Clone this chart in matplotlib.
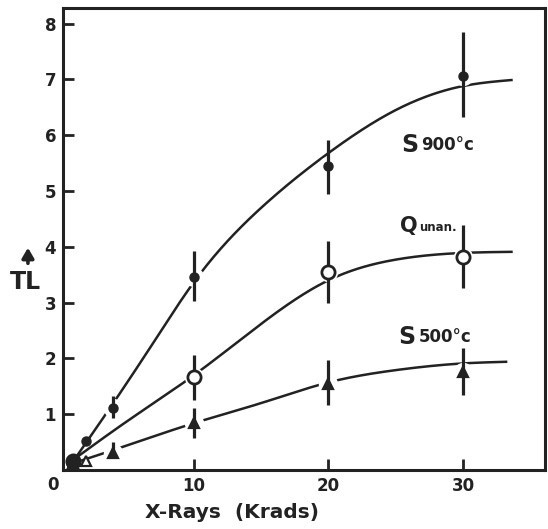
import numpy as np
import matplotlib
matplotlib.use("Agg")
import matplotlib.pyplot as plt

plt.rcParams['font.family'] = ['DejaVu Sans']

# ---- data ----
s900_x = [1, 2, 4, 10, 20, 30]
s900_y = [0.15, 0.52, 1.12, 3.46, 5.44, 7.06]
s900_lo = [0, 0, 0.18, 0.44, 0.49, 0.73]
s900_hi = [0, 0, 0.20, 0.47, 0.47, 0.79]

qun_x = [1, 10, 20, 30]
qun_y = [0.17, 1.67, 3.54, 3.81]
qun_lo = [0, 0.42, 0.55, 0.55]
qun_hi = [0, 0.39, 0.57, 0.58]

s500_x = [1, 2, 4, 10, 20, 30]
s500_y = [0.12, 0.17, 0.30, 0.84, 1.55, 1.76]
s500_lo = [0, 0, 0.08, 0.27, 0.39, 0.42]
s500_hi = [0, 0, 0.20, 0.27, 0.43, 0.42]
s500_open = [False, True, False, False, False, False]

# fitted curves (knots)
c900_x = [1, 4, 7, 10, 15, 20, 25, 30, 33.7]
c900_y = [0.15, 1.2, 2.29, 3.37, 4.7, 5.68, 6.45, 6.88, 6.99]
cq_x = [1, 5, 10, 15, 20, 25, 30, 33.7]
cq_y = [0.18, 0.87, 1.70, 2.62, 3.40, 3.77, 3.89, 3.91]
c500_x = [1, 4.4, 10, 15, 20, 25, 30, 33.3]
c500_y = [0.12, 0.39, 0.84, 1.2, 1.57, 1.79, 1.91, 1.94]

y_ticks = [1, 2, 3, 4, 5, 6, 7, 8]
x_ticks = [10, 20, 30]


def natural_spline(x, y, xn):
    x = np.asarray(x, float); y = np.asarray(y, float)
    n = len(x); h = np.diff(x); d = np.diff(y) / h
    A = np.zeros((n, n)); b = np.zeros(n)
    A[0, 0] = 1; A[-1, -1] = 1
    for i in range(1, n - 1):
        A[i, i - 1] = h[i - 1]; A[i, i] = 2 * (h[i - 1] + h[i]); A[i, i + 1] = h[i]
        b[i] = 6 * (d[i] - d[i - 1])
    M = np.linalg.solve(A, b)
    idx = np.clip(np.searchsorted(x, xn) - 1, 0, n - 2)
    hi = h[idx]; a = x[idx + 1] - xn; c = xn - x[idx]
    return (M[idx] * a**3 / (6 * hi) + M[idx + 1] * c**3 / (6 * hi)
            + (y[idx] / hi - M[idx] * hi / 6) * a + (y[idx + 1] / hi - M[idx + 1] * hi / 6) * c)


fig = plt.figure(figsize=(5.48, 5.29), dpi=100)
ax = fig.add_axes([0.115, 0.1115, 0.8795, 0.8735])
ax.set_xlim(0.26, 36.1)
ax.set_ylim(0, 8.28)

ink = '#222222'
for cx, cy in [(c900_x, c900_y), (cq_x, cq_y), (c500_x, c500_y)]:
    xs = np.linspace(cx[0], cx[-1], 400)
    ax.plot(xs, natural_spline(cx, cy, xs), color=ink, lw=1.8, zorder=2, solid_capstyle='butt')

# white halos producing gaps in the curves around the markers
for xs_, ys_ in [(s900_x[2:], s900_y[2:]), (qun_x[1:], qun_y[1:]), (s500_x[2:], s500_y[2:])]:
    ax.plot(xs_, ys_, 'o', ms=14, mfc='white', mec='none', zorder=3, ls='none')

def bars(x, y, lo, hi):
    ax.errorbar(x, y, yerr=[lo, hi], fmt='none', ecolor=ink, elinewidth=2.3, capsize=0, zorder=4)

bars(s900_x, s900_y, s900_lo, s900_hi)
bars(qun_x, qun_y, qun_lo, qun_hi)
bars(s500_x, s500_y, s500_lo, s500_hi)

ax.plot(s900_x, s900_y, 'o', ms=6.5, color=ink, ls='none', zorder=5)
ax.plot(qun_x, qun_y, 'o', ms=9.5, mfc='white', mec=ink, mew=2, ls='none', zorder=5)
for xv, yv, op in zip(s500_x, s500_y, s500_open):
    ax.plot([xv], [yv], '^', ms=7, mfc='white' if op else ink, mec=ink, mew=1.6, zorder=5)
# dense cluster at origin
ax.plot([s900_x[0]], [s900_y[0]], 'o', ms=10, color=ink, zorder=6)

for sp in ax.spines.values():
    sp.set_linewidth(2.2)
    sp.set_color(ink)

ax.set_yticks(y_ticks)
ax.set_yticklabels([str(v) for v in y_ticks], fontsize=12, fontweight='bold', color=ink)
ax.set_xticks(x_ticks)
ax.set_xticklabels([str(v) for v in x_ticks], fontsize=12, fontweight='bold', color=ink)
ax.tick_params(direction='in', length=8, width=2, color=ink, pad=5)
ax.text(-0.008, -0.012, '0', transform=ax.transAxes, ha='right', va='top',
        fontsize=12, fontweight='bold', color=ink)

fig.text(0.424, 0.031, 'X-Rays  (Krads)', ha='center', va='center',
         fontsize=14.5, fontweight='bold', color=ink)

# TL label with arrow
fig.text(0.047, 0.467, 'TL', ha='center', va='center', fontsize=17, fontweight='bold', color=ink)
fig.add_artist(matplotlib.patches.FancyArrowPatch((0.051, 0.497), (0.051, 0.537),
               transform=fig.transFigure, arrowstyle='-|>,head_length=6,head_width=3.5',
               lw=2.6, color=ink, mutation_scale=1))

def label(x, y, big, small):
    t = ax.text(x, y, big, fontsize=17, fontweight='bold', color=ink, ha='left', va='center')
    ax.annotate(small, xy=(1.0, 0.12), xycoords=t, xytext=(2, 0), textcoords='offset points',
                ha='left', va='bottom', fontsize=12, fontweight='bold', color=ink)

label(25.4, 5.82, 'S', '900°c')
t = ax.text(25.3, 4.38, 'Q', fontsize=15, fontweight='bold', color=ink, ha='left', va='center')
ax.annotate('unan.', xy=(1.0, 0.08), xycoords=t, xytext=(1, 0), textcoords='offset points',
            ha='left', va='bottom', fontsize=8.5, fontweight='bold', color=ink)
label(25.2, 2.39, 'S', '500°c')

fig.savefig('out.png', dpi=100, facecolor='white')
